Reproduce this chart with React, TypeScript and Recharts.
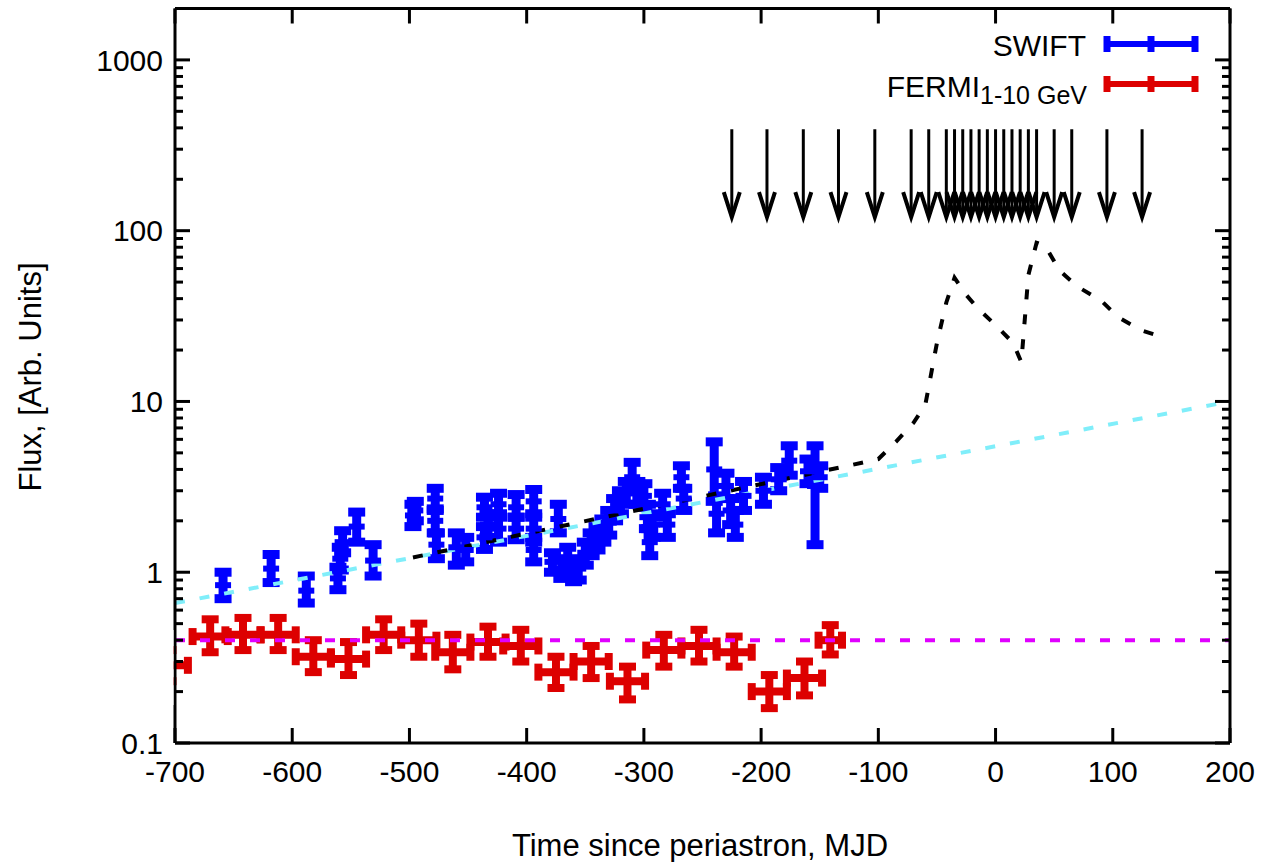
import React from 'react';
import { ComposedChart, XAxis, YAxis, Scatter, Line, ErrorBar } from 'recharts';

const FONT = '"Liberation Sans", Arial, Helvetica, sans-serif';

const xTicks = [-700, -600, -500, -400, -300, -200, -100, 0, 100, 200];
const yTicks = [
  0.1, 0.2, 0.3, 0.4, 0.5, 0.6, 0.7, 0.8, 0.9,
  1, 2, 3, 4, 5, 6, 7, 8, 9,
  10, 20, 30, 40, 50, 60, 70, 80, 90,
  100, 200, 300, 400, 500, 600, 700, 800, 900,
  1000, 2000,
];

// SWIFT: [time, flux, lower, upper]
const swiftPoints: [number, number, number, number][] = [
  [-659, 0.84, 0.7, 1.0],
  [-618, 1.05, 0.87, 1.27],
  [-588, 0.78, 0.66, 0.95],
  [-561, 0.92, 0.79, 1.07],
  [-559, 1.2, 1.03, 1.4],
  [-557, 1.5, 1.3, 1.75],
  [-545, 1.85, 1.5, 2.25],
  [-531, 1.17, 0.95, 1.45],
  [-497, 2.15, 1.85, 2.5],
  [-495, 2.3, 2.0, 2.6],
  [-478, 2.7, 2.3, 3.1],
  [-478, 2.0, 1.7, 2.35],
  [-477, 1.45, 1.2, 1.7],
  [-460, 1.4, 1.1, 1.7],
  [-452, 1.35, 1.15, 1.6],
  [-436, 2.4, 2.1, 2.75],
  [-436, 1.6, 1.36, 1.85],
  [-433, 1.9, 1.6, 2.2],
  [-424, 2.5, 2.2, 2.9],
  [-424, 1.8, 1.5, 2.1],
  [-409, 2.4, 2.1, 2.85],
  [-409, 1.8, 1.55, 2.1],
  [-394, 2.6, 2.2, 3.05],
  [-394, 1.8, 1.5, 2.1],
  [-394, 1.35, 1.15, 1.6],
  [-373, 2.05, 1.7, 2.5],
  [-378, 1.15, 1.0, 1.3],
  [-370, 1.05, 0.92, 1.2],
  [-365, 1.2, 1.0, 1.4],
  [-360, 1.0, 0.88, 1.15],
  [-356, 1.05, 0.9, 1.2],
  [-350, 1.3, 1.1, 1.5],
  [-345, 1.45, 1.25, 1.7],
  [-340, 1.6, 1.35, 1.85],
  [-335, 1.75, 1.5, 2.05],
  [-330, 1.95, 1.65, 2.3],
  [-325, 2.3, 2.0, 2.7],
  [-320, 2.6, 2.2, 3.0],
  [-315, 2.9, 2.5, 3.4],
  [-310, 3.6, 3.0, 4.4],
  [-306, 2.9, 2.5, 3.4],
  [-300, 2.8, 2.4, 3.3],
  [-297, 2.1, 1.8, 2.5],
  [-295, 1.5, 1.25, 1.8],
  [-293, 1.9, 1.6, 2.2],
  [-284, 2.5, 2.1, 2.9],
  [-280, 1.9, 1.6, 2.2],
  [-268, 3.6, 3.1, 4.2],
  [-266, 2.7, 2.3, 3.1],
  [-240, 4.0, 2.6, 5.8],
  [-238, 2.2, 1.7, 2.8],
  [-230, 3.2, 2.7, 3.8],
  [-226, 2.3, 1.9, 2.7],
  [-222, 1.9, 1.6, 2.3],
  [-215, 2.8, 2.3, 3.4],
  [-198, 3.0, 2.5, 3.6],
  [-185, 3.5, 3.0, 4.1],
  [-176, 4.5, 3.7, 5.5],
  [-160, 3.9, 3.3, 4.6],
  [-154, 3.2, 1.45, 5.5],
  [-150, 3.6, 3.1, 4.2],
];

// FERMI 1-10 GeV: [time, flux, lower, upper, half bin width]
const fermiPoints: [number, number, number, number, number][] = [
  [-706, 0.285, 0.23, 0.35, 17],
  [-670, 0.42, 0.34, 0.53, 15],
  [-642, 0.43, 0.35, 0.54, 15],
  [-612, 0.43, 0.35, 0.54, 15],
  [-582, 0.32, 0.26, 0.4, 15],
  [-552, 0.31, 0.25, 0.39, 15],
  [-522, 0.43, 0.35, 0.53, 15],
  [-492, 0.4, 0.32, 0.5, 15],
  [-463, 0.34, 0.27, 0.43, 15],
  [-433, 0.39, 0.32, 0.48, 15],
  [-405, 0.37, 0.3, 0.46, 15],
  [-375, 0.26, 0.21, 0.32, 15],
  [-345, 0.3, 0.24, 0.37, 15],
  [-314, 0.23, 0.18, 0.28, 15],
  [-283, 0.35, 0.28, 0.43, 15],
  [-253, 0.37, 0.3, 0.46, 15],
  [-223, 0.34, 0.28, 0.42, 15],
  [-193, 0.2, 0.16, 0.25, 15],
  [-163, 0.24, 0.19, 0.3, 15],
  [-141, 0.4, 0.33, 0.49, 10],
];

const swiftFit = [
  { x: -700, y: 0.66 },
  { x: 200, y: 10 },
];
const fermiLevel = [
  { x: -700, y: 0.4 },
  { x: 200, y: 0.4 },
];
const modelCurve = [
  { x: -497, y: 1.22 }, { x: -126, y: 4.2 }, { x: -100, y: 4.6 },
  { x: -85, y: 5.8 }, { x: -70, y: 7.5 }, { x: -60, y: 9.5 },
  { x: -50, y: 22 }, { x: -42, y: 38 }, { x: -35, y: 53 },
  { x: -25, y: 42 }, { x: -15, y: 35 }, { x: 0, y: 28 },
  { x: 15, y: 22 }, { x: 22, y: 17 }, { x: 28, y: 55 },
  { x: 35, y: 85 }, { x: 42, y: 82 }, { x: 55, y: 58 },
  { x: 70, y: 47 }, { x: 90, y: 39 }, { x: 105, y: 31 },
  { x: 125, y: 26 }, { x: 145, y: 23.5 },
];

const arrowTimes = [
  -225, -195, -164, -134, -103, -72, -57, -42, -35, -28, -21, -14,
  -7, 0, 7, 14, 21, 28, 35, 50, 65, 95, 125,
];
const arrowTip = 120;

const swiftData = swiftPoints.map(([x, y, lo, hi]) => ({ x, y, err: [y - lo, hi - y] }));
const fermiData = fermiPoints.map(([x, y, lo, hi, dx]) => ({ x, y, err: [y - lo, hi - y], xErr: dx }));
const arrowData = arrowTimes.map((x) => ({ x, y: arrowTip }));

const isMajor = (v: number) => Math.abs(Math.log10(v) - Math.round(Math.log10(v))) < 1e-6;

function LeftTick(props: any) {
  const { x, y, payload } = props;
  const major = isMajor(payload.value);
  return (
    <g>
      <line x1={x} y1={y} x2={x + (major ? 15 : 8)} y2={y} stroke="#000" strokeWidth={3} />
      {major && (
        <text x={x - 12} y={y} dy="0.36em" textAnchor="end" fontSize={30} fontFamily={FONT} fill="#000">
          {String(payload.value)}
        </text>
      )}
    </g>
  );
}

function RightTick(props: any) {
  const { x, y, payload } = props;
  const major = isMajor(payload.value);
  return <line x1={x} y1={y} x2={x - (major ? 15 : 8)} y2={y} stroke="#000" strokeWidth={3} />;
}

function BottomTick(props: any) {
  const { x, y, payload } = props;
  return (
    <g>
      <line x1={x} y1={y} x2={x} y2={y - 15} stroke="#000" strokeWidth={3} />
      <text x={x} y={y + 28} dy="0.36em" textAnchor="middle" fontSize={30} fontFamily={FONT} fill="#000">
        {String(payload.value)}
      </text>
    </g>
  );
}

function TopTick(props: any) {
  const { x, y } = props;
  return <line x1={x} y1={y} x2={x} y2={y + 15} stroke="#000" strokeWidth={3} />;
}

function Arrow(props: any) {
  const { cx, cy } = props;
  if (cx == null || cy == null) return <g />;
  return (
    <g stroke="#000" fill="none">
      <line x1={cx} y1={cy - 88} x2={cx} y2={cy} strokeWidth={3} />
      <polyline points={`${cx - 8},${cy - 25} ${cx},${cy} ${cx + 8},${cy - 25}`} strokeWidth={4} />
    </g>
  );
}

function SwiftDot(props: any) {
  const { cx, cy } = props;
  if (cx == null || cy == null) return <g />;
  return <rect x={cx - 8} y={cy - 3} width={16} height={6} fill="#0000ff" />;
}

const noDot = () => <g />;

export default function App() {
  return (
    <div style={{ position: 'absolute', left: 0, top: 0, width: 1264, height: 862, background: '#fff' }}>
      <ComposedChart width={1264} height={862} margin={{ top: 7.5, right: 33, bottom: 0, left: 0 }}>
        <XAxis
          xAxisId="b"
          dataKey="x"
          type="number"
          domain={[-700, 200]}
          ticks={xTicks}
          interval={0}
          allowDataOverflow
          height={119}
          tickSize={0}
          tickMargin={0}
          tickLine={false}
          axisLine={{ stroke: '#000', strokeWidth: 3 }}
          tick={<BottomTick />}
        />
        <XAxis
          xAxisId="t"
          orientation="top"
          dataKey="x"
          type="number"
          domain={[-700, 200]}
          ticks={xTicks}
          interval={0}
          allowDataOverflow
          height={1}
          tickSize={0}
          tickMargin={0}
          tickLine={false}
          axisLine={{ stroke: '#000', strokeWidth: 3 }}
          tick={<TopTick />}
        />
        <YAxis
          yAxisId="l"
          dataKey="y"
          type="number"
          scale="log"
          domain={[0.1, 2000]}
          ticks={yTicks}
          interval={0}
          allowDataOverflow
          width={175}
          tickSize={0}
          tickMargin={0}
          tickLine={false}
          axisLine={{ stroke: '#000', strokeWidth: 3 }}
          tick={<LeftTick />}
        />
        <YAxis
          yAxisId="r"
          orientation="right"
          dataKey="y"
          type="number"
          scale="log"
          domain={[0.1, 2000]}
          ticks={yTicks}
          interval={0}
          allowDataOverflow
          width={1}
          tickSize={0}
          tickMargin={0}
          tickLine={false}
          axisLine={{ stroke: '#000', strokeWidth: 3 }}
          tick={<RightTick />}
        />

        {/* invisible series so the mirrored top/right axes get drawn */}
        <Line xAxisId="t" yAxisId="r" data={fermiLevel} dataKey="y" stroke="none" dot={false}
          isAnimationActive={false} />

        <Scatter xAxisId="b" yAxisId="l" data={swiftData} dataKey="y" shape={<SwiftDot />} isAnimationActive={false}>
          <ErrorBar dataKey="err" direction="y" width={8.5} strokeWidth={9} stroke="#0000ff" />
        </Scatter>
        <Scatter xAxisId="b" yAxisId="l" data={fermiData} dataKey="y" shape={noDot} isAnimationActive={false}>
          <ErrorBar dataKey="err" direction="y" width={8.5} strokeWidth={8} stroke="#dd0000" />
          <ErrorBar dataKey="xErr" direction="x" width={8.5} strokeWidth={8} stroke="#dd0000" />
        </Scatter>

        <Line xAxisId="b" yAxisId="l" data={swiftFit} dataKey="y" stroke="#80eefa" strokeWidth={4}
          strokeDasharray="10 15" dot={false} isAnimationActive={false} />
        <Line xAxisId="b" yAxisId="l" data={fermiLevel} dataKey="y" stroke="#e000ff" strokeWidth={4}
          strokeDasharray="10 15" dot={false} isAnimationActive={false} />
        <Line xAxisId="b" yAxisId="l" data={modelCurve} dataKey="y" stroke="#000" strokeWidth={4}
          strokeDasharray="10 15" dot={false} isAnimationActive={false} />

        <Scatter xAxisId="b" yAxisId="l" data={arrowData} dataKey="y" shape={<Arrow />} isAnimationActive={false} />
      </ComposedChart>

      <svg width={1264} height={862} style={{ position: 'absolute', left: 0, top: 0, pointerEvents: 'none' }}>
        {/* mask the part of the first FERMI bin that falls left of the frame */}
        <rect x={140} y={630} width={33.5} height={75} fill="#fff" />
        <g fontFamily={FONT} fill="#000">
          <text x={1086} y={56} fontSize={30} textAnchor="end">SWIFT</text>
          <text x={1087} y={97} fontSize={30} textAnchor="end">
            FERMI<tspan fontSize={25} dy={7}>1-10 GeV</tspan>
          </text>
          <text x={700} y={856} fontSize={31} textAnchor="middle">Time since periastron, MJD</text>
          <text x={0} y={0} fontSize={31} textAnchor="middle" transform="translate(41 377) rotate(-90)">
            Flux, [Arb. Units]
          </text>
        </g>
        <g stroke="#0000ff">
          <line x1={1105} y1={44} x2={1197} y2={44} strokeWidth={6} />
          <line x1={1107} y1={36} x2={1107} y2={52} strokeWidth={7} />
          <line x1={1151} y1={36} x2={1151} y2={52} strokeWidth={7} />
          <line x1={1195} y1={36} x2={1195} y2={52} strokeWidth={7} />
        </g>
        <g stroke="#dd0000">
          <line x1={1105} y1={84} x2={1197} y2={84} strokeWidth={6} />
          <line x1={1107} y1={76} x2={1107} y2={92} strokeWidth={7} />
          <line x1={1151} y1={76} x2={1151} y2={92} strokeWidth={7} />
          <line x1={1195} y1={76} x2={1195} y2={92} strokeWidth={7} />
        </g>
      </svg>
    </div>
  );
}
